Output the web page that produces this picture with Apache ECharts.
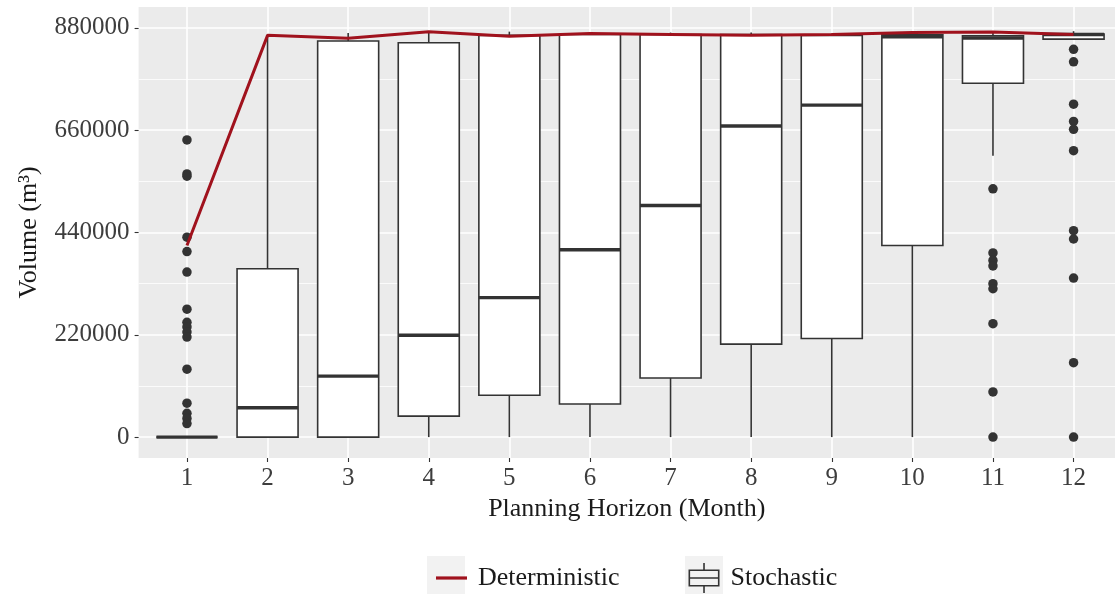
<!DOCTYPE html>
<html>
<head>
<meta charset="utf-8">
<script src="https://cdn.jsdelivr.net/npm/echarts@6/dist/echarts.min.js"></script>
<style>
html,body{margin:0;padding:0;background:#fff;}
#chart{width:1115px;height:595px;}
</style>
</head>
<body>
<div id="chart"></div>
<script>
// ---- data ----
const months = [1, 2, 3, 4, 5, 6, 7, 8, 9, 10, 11, 12];
const yTicks = [0, 220000, 440000, 660000, 880000];
const yMinorTicks = [110000, 330000, 550000, 770000];
const deterministic = [412000, 864000, 858000, 872000, 862000, 868000, 866000, 864000, 866000, 870000, 871000, 866000];
const whiskerLow  = [0, 0, 0, 0, 0, 0, 0, 0, 0, 0, 605000, 856000];
const q1          = [0, 0, 0, 45000, 90000, 71000, 127000, 200000, 212000, 412000, 761000, 856000];
const median      = [0, 63000, 131000, 219000, 300000, 403000, 498000, 669000, 714000, 861000, 858000, 866000];
const q3          = [0, 362000, 852000, 848000, 864000, 866000, 866000, 866000, 864000, 865000, 863000, 867000];
const whiskerHigh = [0, 866000, 869000, 873000, 872000, 870000, 870000, 870000, 868000, 870000, 870000, 873000];
const outliersM1  = [639000, 566000, 561000, 430000, 399000, 355000, 275000, 247000, 237000, 226000, 215000, 146000, 73000, 51000, 40000, 29000];
const outliersM11 = [534000, 396000, 380000, 368000, 330000, 319000, 244000, 97000, 0];
const outliersM12 = [834000, 807000, 716000, 679000, 662000, 616000, 444000, 426000, 342000, 160000, 0];

// ---- derived tables ----
const boxData = months.map((m, i) => [m, whiskerLow[i], q1[i], median[i], q3[i], whiskerHigh[i]]);
const lineData = months.map((m, i) => [m, deterministic[i]]);
const outlierData = []
  .concat(outliersM1.map(v => [1, v]))
  .concat(outliersM11.map(v => [11, v]))
  .concat(outliersM12.map(v => [12, v]));

const FONT = 'Liberation Serif';
const BOX_W = 0.757; // box width in x units
const EDGE = '#333333';
const RED = '#A0121D';

const boxIcon = 'path://M0 6.5H31V23.5H0Z M1.6 8.1V14.2H29.4V8.1Z M1.6 15.8V21.9H29.4V15.8Z M14.7 0H16.3V6.5H14.7Z M14.7 23.5H16.3V30H14.7Z';
const lineIcon = 'path://M0 0H31V3.2H0Z';

const chart = echarts.init(document.getElementById('chart'), null, {renderer: 'canvas'});
chart.setOption({
  animation: false,
  backgroundColor: '#ffffff',
  grid: {
    left: 138.6, top: 7, right: 0, height: 451,
    show: true, backgroundColor: '#EBEBEB', borderWidth: 0
  },
  graphic: [
    {type: 'rect', left: 427, top: 556, shape: {width: 38, height: 38}, style: {fill: '#F2F2F2'}, z: 0, silent: true},
    {type: 'rect', left: 685, top: 556, shape: {width: 38, height: 38}, style: {fill: '#F2F2F2'}, z: 0, silent: true}
  ],
  xAxis: {
    type: 'value', min: 0.4, max: 12.514,
    name: 'Planning Horizon (Month)', nameLocation: 'middle', nameGap: 37,
    nameTextStyle: {fontFamily: FONT, fontSize: 26, color: '#1a1a1a'},
    axisLine: {show: false, onZero: false},
    axisTick: {show: true, length: 4, customValues: months, lineStyle: {color: EDGE, width: 1.1}},
    axisLabel: {customValues: months, fontFamily: FONT, fontSize: 25, color: '#3d3d3d', margin: 8},
    splitLine: {show: true, lineStyle: {color: '#ffffff', width: 1.6}}
  },
  yAxis: [{
    type: 'value', min: -45000, max: 925000,
    name: 'Volume (m³)', nameLocation: 'middle', nameGap: 96, nameRotate: 90,
    nameTextStyle: {fontFamily: FONT, fontSize: 26, color: '#1a1a1a'},
    axisLine: {show: false, onZero: false},
    axisTick: {show: true, length: 4, customValues: yTicks, lineStyle: {color: EDGE, width: 1.1}},
    axisLabel: {customValues: yTicks, fontFamily: FONT, fontSize: 25, color: '#3d3d3d', margin: 9,
      formatter: v => String(v)},
    splitLine: {show: true, lineStyle: {color: '#ffffff', width: 1.6}}
  }, {
    type: 'value', min: -45000, max: 925000, position: 'left',
    axisLine: {show: false, onZero: false},
    axisTick: {show: false, customValues: yMinorTicks},
    axisLabel: {show: false},
    splitLine: {show: true, lineStyle: {color: '#ffffff', width: 0.8}}
  }],
  legend: {
    left: 431, top: 558, z: 5,
    itemWidth: 31, itemHeight: 34, itemGap: 69,
    textStyle: {fontFamily: FONT, fontSize: 26, color: '#1a1a1a', padding: [0, 0, 0, 6]},
    data: [
      {name: 'Deterministic', icon: lineIcon, itemStyle: {color: RED, borderWidth: 0}},
      {name: 'Stochastic', icon: boxIcon, itemStyle: {color: EDGE, borderWidth: 0}}
    ]
  },
  series: [
    {
      name: 'Stochastic', type: 'custom', z: 2,
      itemStyle: {color: EDGE},
      encode: {x: 0, y: [1, 2, 3, 4, 5]},
      data: boxData,
      renderItem: function (params, api) {
        const x = api.value(0);
        const lo = api.coord([x, api.value(1)]);
        const b1 = api.coord([x, api.value(2)]);
        const md = api.coord([x, api.value(3)]);
        const b3 = api.coord([x, api.value(4)]);
        const hi = api.coord([x, api.value(5)]);
        const half = api.size([BOX_W, 0])[0] / 2;
        return {
          type: 'group',
          children: [
            {type: 'line', shape: {x1: lo[0], y1: lo[1], x2: b1[0], y2: b1[1]}, style: {stroke: EDGE, lineWidth: 1.6}},
            {type: 'line', shape: {x1: b3[0], y1: b3[1], x2: hi[0], y2: hi[1]}, style: {stroke: EDGE, lineWidth: 1.6}},
            {type: 'rect', shape: {x: b1[0] - half, y: b3[1], width: 2 * half, height: b1[1] - b3[1]},
              style: {fill: '#ffffff', stroke: EDGE, lineWidth: 1.6}},
            {type: 'line', shape: {x1: md[0] - half, y1: md[1], x2: md[0] + half, y2: md[1]},
              style: {stroke: EDGE, lineWidth: 3.4}}
          ]
        };
      }
    },
    {
      name: 'Stochastic', type: 'scatter', z: 3,
      symbol: 'circle', symbolSize: 9.5,
      itemStyle: {color: EDGE, opacity: 1},
      data: outlierData
    },
    {
      name: 'Deterministic', type: 'line', z: 4,
      symbol: 'none', smooth: false,
      lineStyle: {color: RED, width: 3},
      itemStyle: {color: RED},
      data: lineData
    }
  ]
});
</script>
</body>
</html>
